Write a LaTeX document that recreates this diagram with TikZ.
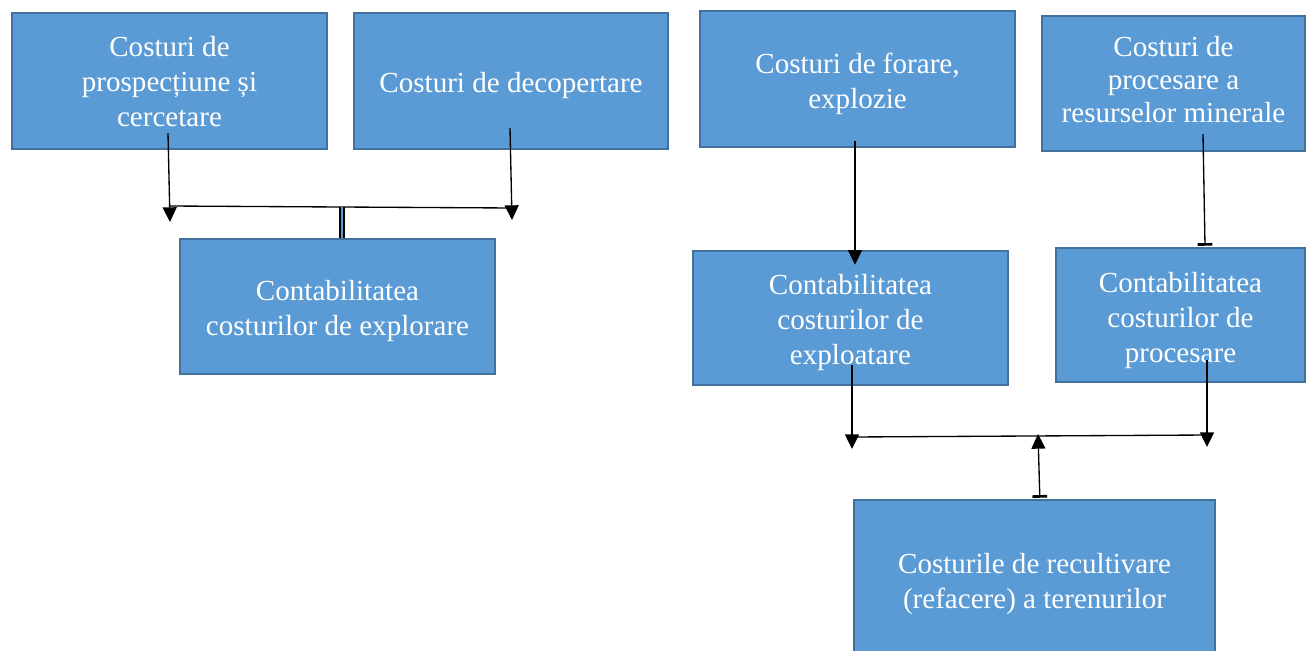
\documentclass[tikz,border=0pt]{standalone}
\usepackage{fontspec}
\setmainfont{Liberation Serif}
\usetikzlibrary{arrows.meta}
\definecolor{boxfill}{HTML}{5B9BD5}
\definecolor{boxedge}{HTML}{41719C}
\begin{document}
\begin{tikzpicture}[x=0.75pt,y=-0.75pt,
  box/.style={draw=boxedge,line width=1.4pt,fill=boxfill,inner sep=0pt},
  txt/.style={text=white,align=center,inner sep=0pt,
    font=\fontsize{21.8}{26.25}\selectfont},
  sz/.style 2 args={minimum width=#1*0.75pt,minimum height=#2*0.75pt},
  link/.style={line width=1pt,draw=black},
  tri/.tip={Triangle[width=10.5pt,length=11pt]},
  tee/.tip={Bar[width=11pt,line width=2pt]}]
\useasboundingbox (0,0) rectangle (1306,650);
\clip (0,0) rectangle (1306,650);

% top row: cost sources
\node[box,sz={315}{136},label={[txt,yshift=-0.75pt]center:{Costuri de\\prospecțiune și\\cercetare}}] (A) at (169.5,81) {};
\node[box,sz={314}{136},label={[txt,yshift=-3.75pt]center:{Costuri de decopertare}}] (B) at (511,81) {};
\node[box,sz={315}{136},label={[txt,yshift=-3.4pt]center:{Costuri de forare,\\explozie}}] (C) at (857.5,79) {};
\node[box,sz={263}{135},label={[txt,yshift=2.6pt,font=\fontsize{21.8}{24.75}\selectfont]center:{Costuri de\\procesare a\\resurselor minerale}}] (D) at (1173.5,83.5) {};

% accounting boxes
\node[box,sz={315}{135},label={[txt,yshift=-3.75pt]center:{Contabilitatea\\costurilor de explorare}}] (E) at (337.5,306.5) {};
\node[box,sz={315}{134},label={[txt,yshift=-3.75pt]center:{Contabilitatea\\costurilor de\\exploatare}}] (F) at (850.5,318) {};
\node[box,sz={249}{134},label={[txt,yshift=-4.5pt]center:{Contabilitatea\\costurilor de\\procesare}}] (G) at (1180.5,315) {};

% reclamation box
\node[box,sz={361}{162},label={[txt,yshift=-2.6pt]center:{Costurile de recultivare\\(refacere) a terenurilor}}] (H) at (1034.5,581) {};

% junction points
\coordinate (a1) at (168,133);
\coordinate (a2) at (170,222);
\coordinate (b1) at (510,128);
\coordinate (b2) at (512,220);
\coordinate (jL) at (170,206);
\coordinate (jR) at (512,208);
\coordinate (jM) at (342,207);
\coordinate (c1) at (855,141);
\coordinate (d1) at (1203,134);
\coordinate (f1) at (852,365);
\coordinate (f2) at (852,449);
\coordinate (g1) at (1207,360);
\coordinate (g2) at (1207,447);
\coordinate (kL) at (852,437);
\coordinate (kR) at (1207,435);
\coordinate (kM) at (1038,434);

% exploration branch
\draw[link,-tri] (a1) -- (a2);
\draw[link,-tri] (b1) -- (b2);
\draw[link] (jL) -- (jR);
\draw[line width=1pt,double=boxfill,double distance=2pt] (jM) -- (E.north -| jM);

% exploitation and processing branch
\draw[link,-tri] (c1) -- ([yshift=-11pt]F.north -| c1);
\draw[link,-tee] (d1) -- ([yshift=1pt]G.north -| 1205,0);
\draw[link,-tri] (f1) -- (f2);
\draw[link,-tri] (g1) -- (g2);
\draw[link] (kL) -- (kR);
\draw[link,tri-tee] (kM) -- ([xshift=4pt,yshift=1pt]H.north);
\end{tikzpicture}
\end{document}
